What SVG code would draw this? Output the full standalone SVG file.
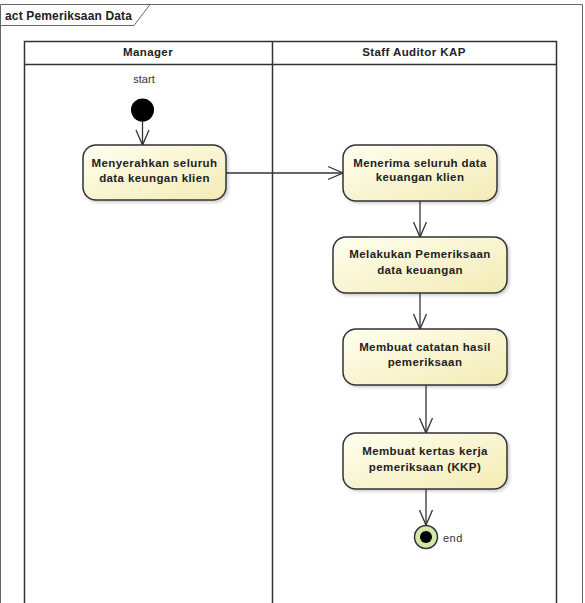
<svg xmlns="http://www.w3.org/2000/svg" width="585" height="603" viewBox="0 0 585 603">
<defs>
<linearGradient id="g" x1="0" y1="0" x2="1" y2="1">
<stop offset="0" stop-color="#fffff0"/>
<stop offset="1" stop-color="#f3ebb4"/>
</linearGradient>
<marker id="arr" markerWidth="18" markerHeight="16" refX="16" refY="8" orient="auto" markerUnits="userSpaceOnUse">
<path d="M1,1.5 L16,8 L1,14.5" fill="none" stroke="#333" stroke-width="1.3"/>
</marker>
<filter id="sh" x="-10%" y="-10%" width="130%" height="140%">
<feDropShadow dx="2" dy="2" stdDeviation="1.5" flood-color="#000" flood-opacity="0.18"/>
</filter>
</defs>
<style>
.frame{fill:none;stroke:#666;stroke-width:1}
.lane{fill:none;stroke:#333;stroke-width:1.5}
.t{font-family:"Liberation Sans",Arial,sans-serif;font-weight:bold;font-size:11.5px;fill:#222;text-anchor:middle;letter-spacing:0.4px}
.lbl{font-family:"Liberation Sans",Arial,sans-serif;font-size:11px;fill:#333}
.node{fill:url(#g);stroke:#333;stroke-width:1.5;filter:url(#sh)}
.c{fill:none;stroke:#333;stroke-width:1.3;marker-end:url(#arr)}
</style>
<rect width="585" height="603" fill="#fff"/>
<g id="frame">
<path class="frame" d="M0.5,603 V4.5 H582.5 V603"/>
<path class="frame" d="M0.5,25.5 H134 L150,4.5"/>
<text x="5" y="19.5" class="t" style="text-anchor:start;font-size:12px;letter-spacing:0.15px">act Pemeriksaan Data</text>
</g>
<g id="lanes">
<path class="lane" d="M24.5,603 V41.5 H556.5 V603 M24.5,64.5 H556.5 M272.5,41.5 V603"/>
<text x="148" y="56" class="t">Manager</text>
<text x="414" y="56" class="t">Staff Auditor KAP</text>
</g>
<g id="connectors">
<line class="c" x1="142.5" y1="121" x2="142.5" y2="145"/>
<line class="c" x1="226" y1="173" x2="343" y2="173"/>
<line class="c" x1="420" y1="201" x2="420" y2="237"/>
<line class="c" x1="420" y1="293" x2="420" y2="329"/>
<line class="c" x1="426" y1="385" x2="426" y2="433"/>
<line class="c" x1="426" y1="489" x2="426" y2="525"/>
</g>
<g id="start">
<text x="144" y="83" class="lbl" text-anchor="middle">start</text>
<circle cx="142.5" cy="110" r="11.5" fill="#000"/>
</g>
<g id="n1">
<rect class="node" x="83" y="145" width="143" height="55" rx="13"/>
<text x="154.5" y="167" class="t">Menyerahkan seluruh</text>
<text x="154.5" y="182" class="t">data keungan klien</text>
</g>
<g id="n2">
<rect class="node" x="343" y="145" width="154" height="56" rx="13"/>
<text x="420" y="167" class="t">Menerima seluruh data</text>
<text x="420" y="181" class="t">keuangan klien</text>
</g>
<g id="n3">
<rect class="node" x="333" y="237" width="174" height="56" rx="13"/>
<text x="420" y="258" class="t">Melakukan Pemeriksaan</text>
<text x="420" y="274" class="t">data keuangan</text>
</g>
<g id="n4">
<rect class="node" x="343" y="329" width="164" height="56" rx="13"/>
<text x="425" y="351" class="t">Membuat catatan hasil</text>
<text x="425" y="366" class="t">pemeriksaan</text>
</g>
<g id="n5">
<rect class="node" x="343" y="433" width="164" height="56" rx="13"/>
<text x="425" y="455" class="t">Membuat kertas kerja</text>
<text x="425" y="471" class="t">pemeriksaan (KKP)</text>
</g>
<g id="end">
<circle cx="426" cy="537" r="11.5" fill="#d3e8a8" stroke="#333" stroke-width="1.5"/>
<circle cx="426" cy="537" r="6" fill="#000"/>
<text x="443" y="542" class="lbl" style="letter-spacing:0.5px">end</text>
</g>
</svg>
